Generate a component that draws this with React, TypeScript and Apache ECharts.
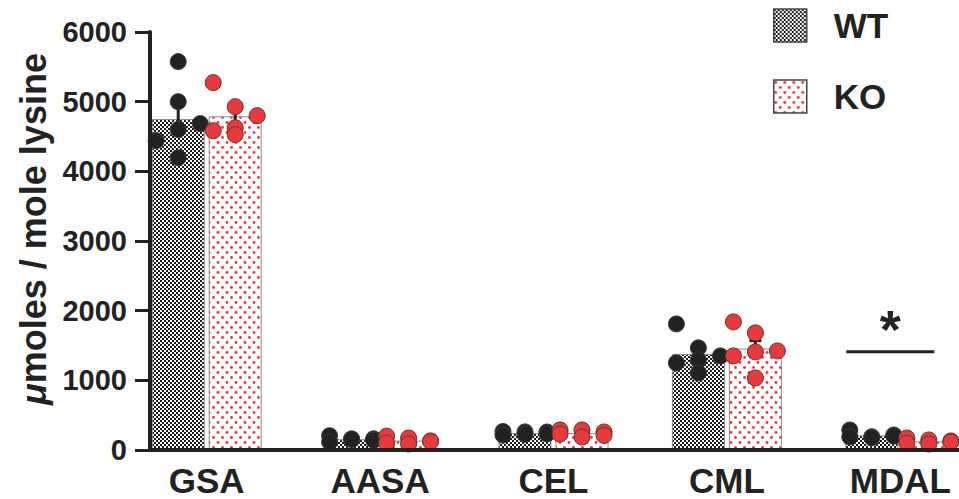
import React, { useEffect, useRef } from 'react';
import * as echarts from 'echarts';

const categories = ['GSA', 'AASA', 'CEL', 'CML', 'MDAL'];
const seriesNames = ['WT', 'KO'];
const yTicks = [0, 1000, 2000, 3000, 4000, 5000, 6000];

// bar heights (means)
const wtMeans = [4750, 155, 242, 1379, 209];
const koMeans = [4790, 135, 243, 1456, 124];
// error bar half-lengths (SEM)
const wtSem = [198, 18, 9, 99, 17];
const koSem = [114, 15, 16, 114, 13];

// individual animals
const wtPoints = [
  [4440, 5575, 5000, 4600, 4195, 4685],
  [205, 115, 160, 150, 160, 140],
  [265, 215, 260, 225, 258, 230],
  [1810, 1250, 1466, 1293, 1106, 1350],
  [287, 187, 190, 175, 215, 200],
];
const koPoints = [
  [5273, 4583, 4928, 4626, 4526, 4799],
  [200, 100, 172, 86, 130, 120],
  [287, 230, 287, 187, 258, 210],
  [1839, 1350, 1681, 1408, 1034, 1422],
  [172, 100, 144, 86, 129, 115],
];
// dot column within each bar (-1 left, 0 centre, 1 right)
const wtCols = [
  [-1, 0, 0, 0, 0, 1],
  [-1, -1, 0, 0, 1, 1],
  [-1, -1, 0, 0, 1, 1],
  [-1, -1, 0, 0, 0, 1],
  [-1, -1, 0, 0, 1, 1],
];
const koCols = [
  [-1, -1, 0, 0, 0, 1],
  [-1, -1, 0, 0, 1, 1],
  [-1, -1, 0, 0, 1, 1],
  [-1, -1, 0, 0, 0, 1],
  [-1, -1, 0, 0, 1, 1],
];
const sigCategory = 'MDAL';
const sigLevel = 1410;
const sigLabel = '*';

const FONT = "'Liberation Sans', Arial, Helvetica, sans-serif";
const INK = '#222222';
const RED = '#e63a3d';
const BAR_W = 53;
const BAR_GAP = 4;
const COL_STEP = 22;

function makeChecker() {
  const c = document.createElement('canvas');
  c.width = 4;
  c.height = 4;
  const g = c.getContext('2d')!;
  g.fillStyle = '#ffffff';
  g.fillRect(0, 0, 4, 4);
  g.fillStyle = '#1c1c1c';
  g.fillRect(0, 0, 2, 2);
  g.fillRect(2, 2, 2, 2);
  return c;
}

function makeDots() {
  const c = document.createElement('canvas');
  c.width = 9;
  c.height = 10;
  const g = c.getContext('2d')!;
  g.fillStyle = '#ffffff';
  g.fillRect(0, 0, 9, 10);
  g.fillStyle = RED;
  g.beginPath();
  g.arc(2, 2.5, 1.45, 0, Math.PI * 2);
  g.fill();
  g.beginPath();
  g.arc(6.5, 7.5, 1.45, 0, Math.PI * 2);
  g.fill();
  return c;
}

export default function App() {
  const ref = useRef<HTMLDivElement>(null);

  useEffect(() => {
    if (!ref.current) return;
    const chart = echarts.init(ref.current, undefined, { renderer: 'svg' });
    const checker = { image: makeChecker(), repeat: 'repeat' };
    const dots = { image: makeDots(), repeat: 'repeat' };

    const dotData = (pts: number[][], cols: number[][]) => {
      const out: number[][] = [];
      pts.forEach((arr, ci) => arr.forEach((v, k) => out.push([ci, v, cols[ci][k]])));
      return out;
    };

    const dotSeries = (name: string, side: number, data: number[][], fill: string, stroke: string) => ({
      type: 'custom',
      name,
      xAxisIndex: 0,
      yAxisIndex: 0,
      z: 5,
      data,
      renderItem: (params: any, api: any) => {
        const c = api.coord([api.value(0), api.value(1)]);
        const x = c[0] + (side * (BAR_W + BAR_GAP)) / 2 + api.value(2) * COL_STEP;
        return {
          type: 'circle',
          shape: { cx: x, cy: c[1], r: 8 },
          style: { fill, stroke, lineWidth: 1 },
        };
      },
    });

    const errSeries = (name: string, side: number, means: number[], sems: number[]) => ({
      type: 'custom',
      name,
      xAxisIndex: 0,
      yAxisIndex: 0,
      z: 4,
      data: means.map((m, i) => [i, m, sems[i]]),
      renderItem: (params: any, api: any) => {
        const m = api.value(1);
        const s = api.value(2);
        const top = api.coord([api.value(0), m + s]);
        const bot = api.coord([api.value(0), m - s]);
        const x = top[0] + (side * (BAR_W + BAR_GAP)) / 2;
        const st = { stroke: INK, lineWidth: 3 };
        return {
          type: 'group',
          children: [
            { type: 'line', shape: { x1: x, y1: top[1], x2: x, y2: bot[1] }, style: st },
            { type: 'line', shape: { x1: x - 6, y1: top[1], x2: x + 6, y2: top[1] }, style: st },
            { type: 'line', shape: { x1: x - 6, y1: bot[1], x2: x + 6, y2: bot[1] }, style: st },
          ],
        };
      },
    });

    const option: any = {
      animation: false,
      backgroundColor: '#ffffff',
      textStyle: { fontFamily: FONT },
      legend: {
        orient: 'vertical',
        left: 768,
        top: 3,
        itemWidth: 33,
        itemHeight: 33,
        itemGap: 36,
        icon: 'rect',
        selectedMode: false,
        data: [
          { name: 'WT', itemStyle: { borderColor: '#444', borderWidth: 1.5 } },
          { name: 'KO', itemStyle: { borderColor: '#444', borderWidth: 1.5 } },
        ],
        textStyle: {
          fontFamily: FONT,
          fontWeight: 'bold',
          fontSize: 35,
          color: INK,
          padding: [0, 0, 0, 22],
        },
      },
      grid: [
        { left: 120, width: 867, top: 32, bottom: 49, outerBoundsMode: 'none' },
        { left: 150, right: 0, top: 32, bottom: 49, outerBoundsMode: 'none' },
      ],
      xAxis: [
        {
          type: 'category',
          gridIndex: 0,
          data: categories,
          axisLine: { show: false },
          axisTick: { show: false },
          axisLabel: {
            margin: 13,
            fontFamily: FONT,
            fontWeight: 'bold',
            fontSize: 35,
            color: INK,
          },
        },
        {
          type: 'value',
          gridIndex: 1,
          min: 0,
          max: 1,
          z: 6,
          axisLine: { show: true, lineStyle: { color: INK, width: 4 } },
          axisTick: { show: false },
          axisLabel: { show: false },
          splitLine: { show: false },
        },
      ],
      yAxis: [
        {
          type: 'value',
          gridIndex: 0,
          min: 0,
          max: 6000,
          show: false,
          splitLine: { show: false },
        },
        {
          type: 'value',
          gridIndex: 1,
          min: 0,
          max: 6000,
          interval: 1000,
          z: 6,
          axisLine: { show: true, lineStyle: { color: INK, width: 4 } },
          axisTick: { show: true, length: 15, lineStyle: { color: INK, width: 3 } },
          splitLine: { show: false },
          axisLabel: {
            margin: 23,
            fontFamily: FONT,
            fontWeight: 'bold',
            fontSize: 29,
            color: INK,
            formatter: (v: number) => (yTicks.includes(v) ? String(v) : ''),
          },
          name: '{i|μ}moles / mole lysine',
          nameLocation: 'middle',
          nameRotate: 90,
          nameGap: 95,
          nameTextStyle: {
            fontFamily: FONT,
            fontWeight: 'bold',
            fontSize: 36,
            color: INK,
            padding: [0, 0, 0, 24],
            rich: {
              i: { fontFamily: FONT, fontWeight: 'bold', fontStyle: 'italic', fontSize: 36, color: INK },
            },
          },
        },
      ],
      series: [
        {
          type: 'bar',
          name: seriesNames[0],
          xAxisIndex: 0,
          yAxisIndex: 0,
          data: wtMeans,
          barWidth: BAR_W,
          barGap: `${(BAR_GAP / BAR_W) * 100}%`,
          itemStyle: { color: checker, borderColor: '#8a8a8a', borderWidth: 1 },
          z: 2,
        },
        {
          type: 'bar',
          name: seriesNames[1],
          xAxisIndex: 0,
          yAxisIndex: 0,
          data: koMeans,
          barWidth: BAR_W,
          barGap: `${(BAR_GAP / BAR_W) * 100}%`,
          itemStyle: { color: dots, borderColor: '#8a8a8a', borderWidth: 1 },
          z: 2,
        },
        errSeries('WT sem', -1, wtMeans, wtSem),
        errSeries('KO sem', 1, koMeans, koSem),
        dotSeries('WT dots', -1, dotData(wtPoints, wtCols), INK, '#3a3a3a'),
        dotSeries('KO dots', 1, dotData(koPoints, koCols), RED, '#6b3030'),
        {
          type: 'custom',
          name: 'significance',
          xAxisIndex: 0,
          yAxisIndex: 0,
          z: 6,
          data: [[categories.indexOf(sigCategory), sigLevel]],
          renderItem: (params: any, api: any) => {
            const c = api.coord([api.value(0), api.value(1)]);
            const cx = c[0] - 10;
            return {
              type: 'group',
              children: [
                {
                  type: 'line',
                  shape: { x1: cx - 44, y1: c[1], x2: cx + 44, y2: c[1] },
                  style: { stroke: INK, lineWidth: 3 },
                },
                {
                  type: 'text',
                  style: {
                    x: cx,
                    y: c[1] + 4,
                    text: sigLabel,
                    fontFamily: FONT,
                    fontWeight: 'bold',
                    fontSize: 54,
                    fill: INK,
                    align: 'center',
                    verticalAlign: 'bottom',
                  },
                },
              ],
            };
          },
        },
      ],
    };

    chart.setOption(option);
    return () => chart.dispose();
  }, []);

  return (
    <div
      ref={ref}
      style={{ position: 'fixed', left: 0, top: 0, width: 959, height: 499, background: '#fff' }}
    />
  );
}
